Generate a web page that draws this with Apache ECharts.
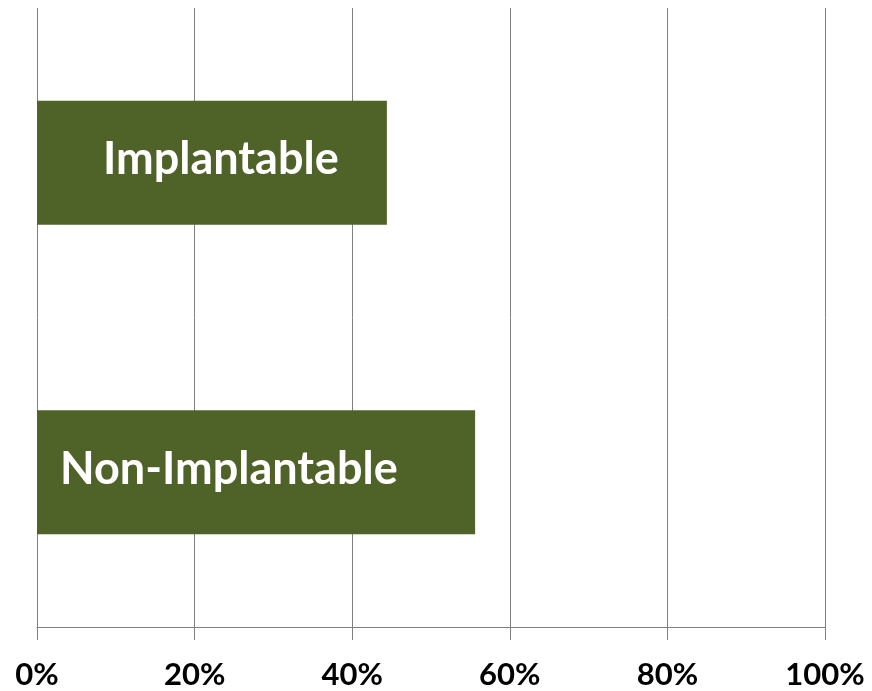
<!DOCTYPE html>
<html>
<head>
<meta charset="utf-8">
<script src="https://cdn.jsdelivr.net/npm/echarts@6/dist/echarts.min.js"></script>
<style>
  html, body { margin: 0; padding: 0; background: #ffffff; }
  #chart { width: 872px; height: 691px; }
</style>
</head>
<body>
<div id="chart"></div>
<script>
// Share of devices by type (percent)
const categories = ['Implantable', 'Non-Implantable'];
const shares = [44.4, 55.6];
const tickValues = [0, 20, 40, 60, 80, 100];

// Inside-label offsets from the bar's left end
const labelInset = [66, 23];

const chart = echarts.init(document.getElementById('chart'), null, { renderer: 'canvas' });

const gridColor = '#808080';

chart.setOption({
  animation: false,
  backgroundColor: '#ffffff',
  grid: { left: 37, right: 47, top: 8, bottom: 64, containLabel: false },
  xAxis: {
    type: 'value',
    min: tickValues[0],
    max: tickValues[tickValues.length - 1],
    interval: 20,
    axisLine: { show: true, lineStyle: { color: gridColor, width: 1 } },
    axisTick: { show: true, length: 13, lineStyle: { color: gridColor, width: 1 } },
    splitLine: { show: true, lineStyle: { color: gridColor, width: 1 } },
    axisLabel: {
      formatter: v => v + '%',
      color: '#000000',
      fontFamily: 'Lato',
      fontWeight: 'bold',
      fontSize: 31,
      margin: 32
    }
  },
  yAxis: {
    type: 'category',
    data: categories,
    inverse: true,
    axisLine: { show: false },
    axisTick: { show: false },
    axisLabel: { show: false },
    splitLine: { show: false }
  },
  series: [{
    type: 'bar',
    barCategoryGap: '60%',
    itemStyle: { color: '#4F6228' },
    data: shares.map((v, i) => ({
      value: v,
      label: {
        show: true,
        position: 'insideLeft',
        distance: labelInset[i],
        offset: [0, -3],
        formatter: categories[i],
        color: '#ffffff',
        fontFamily: 'Lato',
        fontWeight: 'bold',
        fontSize: 45
      }
    }))
  }]
});
</script>
</body>
</html>
